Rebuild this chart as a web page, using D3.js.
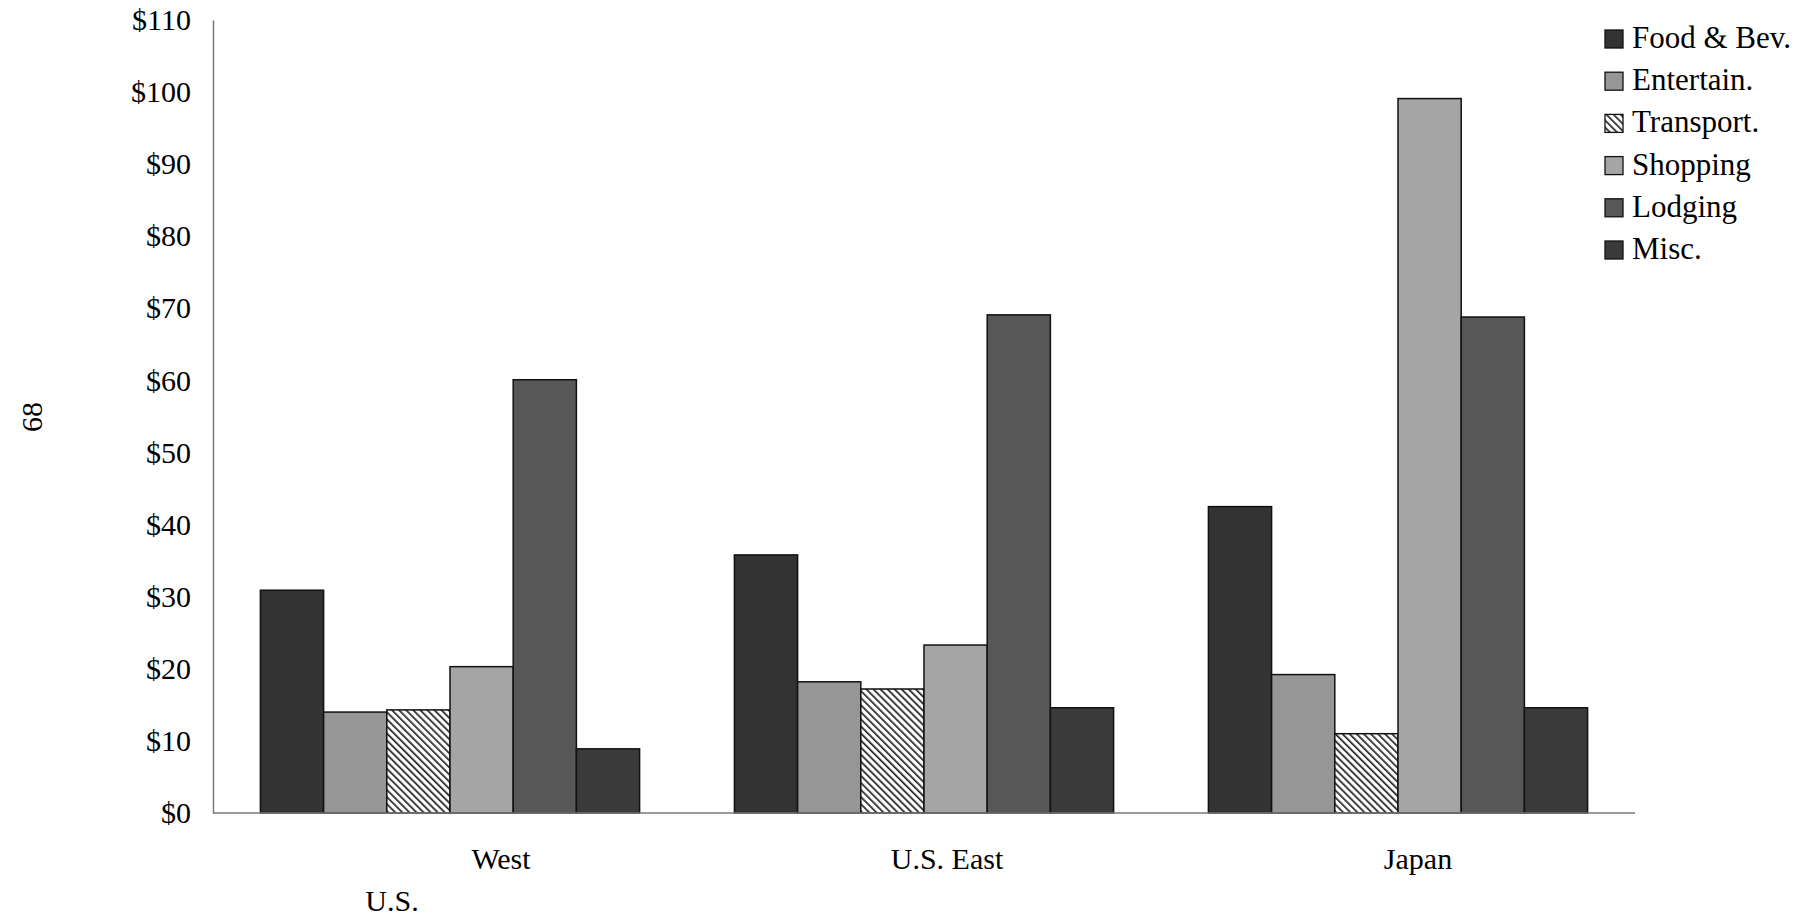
<!DOCTYPE html>
<html>
<head>
<meta charset="utf-8">
<script src="https://cdn.jsdelivr.net/npm/d3@7"></script>
<style>
  html, body { margin: 0; padding: 0; background: #fff; }
  svg { display: block; }
  svg text { font-family: "Liberation Serif", "DejaVu Serif", serif; }
</style>
</head>
<body>
<svg id="chart" width="1816" height="917"></svg>
<script>
// Average daily spending per visitor, by market and category
const regions = ["U.S. West", "U.S. East", "Japan"];
const regionLabelLines = [["West", "U.S."], ["U.S. East"], ["Japan"]];
const categories = ["Food & Bev.", "Entertain.", "Transport.", "Shopping", "Lodging", "Misc."];
const foodBev   = [30.9, 35.8, 42.5];
const entertain = [14.0, 18.2, 19.2];
const transport = [14.3, 17.2, 11.0];
const shopping  = [20.3, 23.3, 99.1];
const lodging   = [60.1, 69.1, 68.8];
const misc      = [8.9, 14.6, 14.6];
const yTicks = [0, 10, 20, 30, 40, 50, 60, 70, 80, 90, 100, 110];
const sideLabel = "68";

const seriesValues = [foodBev, entertain, transport, shopping, lodging, misc];
const fills = ["#333333", "#969696", "url(#hatch)", "#a5a5a5", "#575757", "#3a3a3a"];
const serif = "'Liberation Serif', 'DejaVu Serif', serif";

const svg = d3.select("#chart");
const plotLeft = 213, plotRight = 1635, plotTop = 20, plotBottom = 813;

// fine diagonal hatch for the transport series
const defs = svg.append("defs");
const pat = defs.append("pattern")
  .attr("id", "hatch").attr("patternUnits", "userSpaceOnUse")
  .attr("width", 5).attr("height", 5)
  .attr("patternTransform", "rotate(-45)");
pat.append("rect").attr("width", 5).attr("height", 5).attr("fill", "#fff");
pat.append("rect").attr("x", 0).attr("y", 0).attr("width", 1.7).attr("height", 5).attr("fill", "#222");

const x0 = d3.scaleBand().domain(regions).range([plotLeft, plotRight]).paddingInner(0.2).paddingOuter(0.1);
const x1 = d3.scaleBand().domain(categories).range([0, x0.bandwidth()]);
const y = d3.scaleLinear().domain([0, 110]).range([plotBottom, plotTop]);

// y axis: line with dollar labels, no tick marks
const yAxis = d3.axisLeft(y).tickValues(yTicks).tickSize(0).tickPadding(22)
  .tickFormat(d => "$" + d);
const gy = svg.append("g").attr("transform", `translate(${plotLeft},0)`).call(yAxis);
gy.attr("font-family", serif).attr("font-size", 30);
gy.select(".domain").attr("stroke", "#7a7a7a").attr("stroke-width", 1.5);
gy.selectAll("text").attr("font-size", 30).attr("fill", "#000")
  .attr("font-family", serif);

// bars
const groups = svg.append("g").selectAll("g")
  .data(regions).join("g")
  .attr("transform", r => `translate(${x0(r)},0)`);

groups.selectAll("rect")
  .data((r, ri) => categories.map((c, ci) => ({ c, ci, v: seriesValues[ci][ri] })))
  .join("rect")
  .attr("x", d => x1(d.c))
  .attr("width", x1.bandwidth())
  .attr("y", d => y(d.v))
  .attr("height", d => y(0) - y(d.v))
  .attr("fill", d => fills[d.ci])
  .attr("stroke", "#111")
  .attr("stroke-width", 1.5);

// baseline
svg.append("line")
  .attr("x1", plotLeft).attr("x2", plotRight)
  .attr("y1", y(0)).attr("y2", y(0))
  .attr("stroke", "#7a7a7a").attr("stroke-width", 1.5);

// category labels
const labelShift = [51, 23, 20];
const secondLineShift = [-58];
regionLabelLines.forEach((lines, i) => {
  const cx = x0(regions[i]) + x0.bandwidth() / 2;
  lines.forEach((line, j) => {
    const dx = j === 0 ? labelShift[i] : secondLineShift[i];
    svg.append("text")
      .attr("x", cx + dx)
      .attr("y", 869 + j * 42)
      .attr("text-anchor", "middle")
      .attr("font-family", serif)
      .attr("font-size", 30)
      .attr("fill", "#000")
      .text(line);
  });
});

// rotated side label
svg.append("text")
  .attr("transform", "translate(42,417) rotate(-90)")
  .attr("text-anchor", "middle")
  .attr("font-family", serif)
  .attr("font-size", 30)
  .attr("fill", "#000")
  .text(sideLabel);

// legend
const legend = svg.append("g").attr("transform", "translate(1605,30)");
const rows = legend.selectAll("g").data(categories).join("g")
  .attr("transform", (d, i) => `translate(0,${i * 42.2})`);
rows.append("rect")
  .attr("x", 0).attr("y", 0).attr("width", 18).attr("height", 18)
  .attr("fill", (d, i) => fills[i])
  .attr("stroke", "#111").attr("stroke-width", 1.3);
rows.append("text")
  .attr("x", 27).attr("y", 18)
  .attr("font-family", serif)
  .attr("font-size", 31)
  .attr("fill", "#000")
  .text(d => d);
</script>
</body>
</html>
